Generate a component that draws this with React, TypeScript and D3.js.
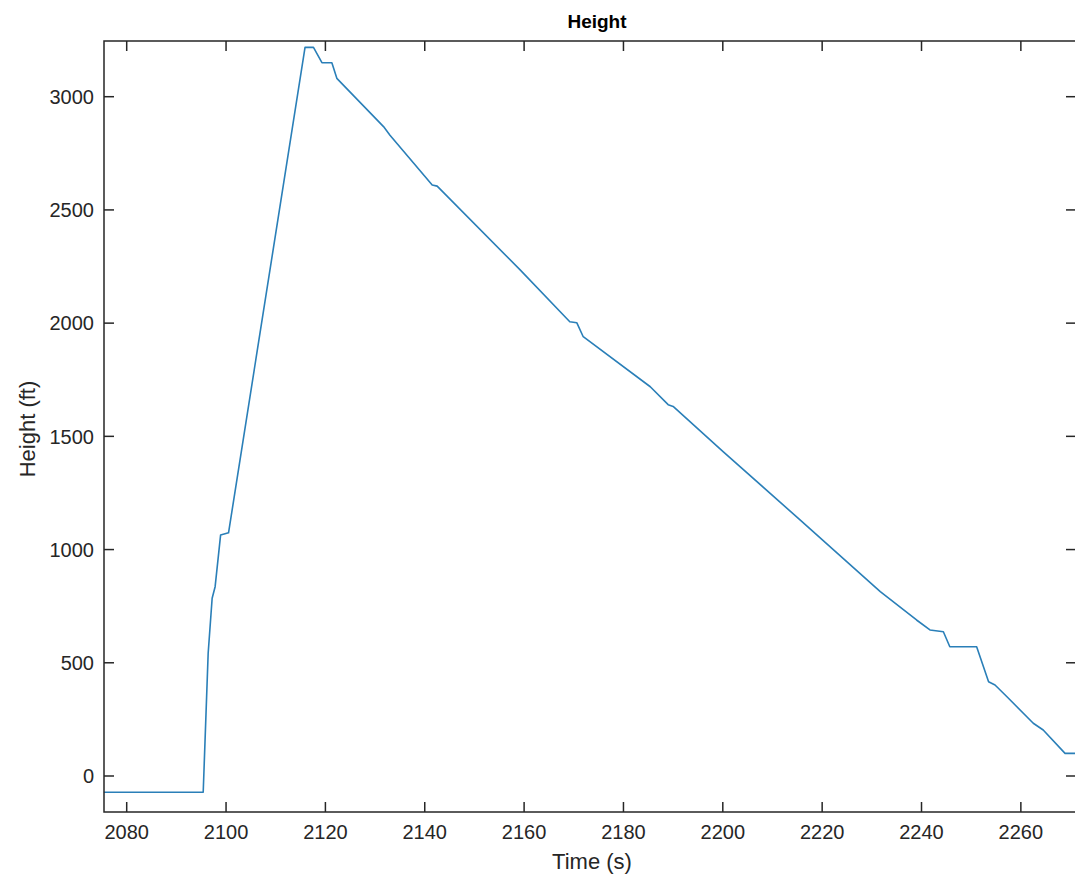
import React, { useEffect, useRef } from 'react';
import * as d3 from 'd3';

// flight log: time (s) vs height (ft)
const times = [
  2075.4, 2095.4, 2096.4, 2097.2, 2097.8, 2098.9, 2100.5, 2115.9, 2117.6, 2119.3,
  2121.3, 2122.3, 2131.7, 2133.0, 2141.5, 2142.5, 2159.2, 2169.2, 2170.6, 2171.9,
  2185.4, 2189.0, 2190.0, 2200.0, 2215.6, 2231.7, 2239.0, 2241.7, 2244.4, 2245.7,
  2251.1, 2253.5, 2254.8, 2257.2, 2262.5, 2264.5, 2268.9, 2271.1
];
const heights = [
  -72, -72, 542, 785, 836, 1064, 1074, 3218, 3218, 3150,
  3150, 3081, 2868, 2830, 2610, 2605, 2235, 2006, 2002, 1940,
  1719, 1640, 1632, 1434, 1130, 814, 689, 645, 637, 571,
  571, 416, 402, 350, 233, 203, 100, 100
];
const xTicks = [2080, 2100, 2120, 2140, 2160, 2180, 2200, 2220, 2240, 2260];
const yTicks = [0, 500, 1000, 1500, 2000, 2500, 3000];

const W = 1075;
const H = 876;
const box = { left: 104, top: 41, right: 1076, bottom: 812 };
const FONT = '"Liberation Sans", Arial, sans-serif';
const INK = '#262626';

export default function App() {
  const svgRef = useRef<SVGSVGElement>(null);

  useEffect(() => {
    if (!svgRef.current) return;
    const svg = d3.select(svgRef.current);
    svg.selectAll('*').remove();

    const x = d3.scaleLinear().domain([2075.43, 2271.1]).range([box.left, box.right]);
    const y = d3.scaleLinear().domain([-159, 3246]).range([box.bottom, box.top]);

    svg.append('rect').attr('width', W).attr('height', H).attr('fill', '#fff');

    // data line
    const pts = times.map((t, i) => [t, heights[i]] as [number, number]);
    const line = d3.line<[number, number]>().x(d => x(d[0])).y(d => y(d[1]));
    svg.append('path')
      .datum(pts)
      .attr('d', line)
      .attr('fill', 'none')
      .attr('stroke', '#2a7fb8')
      .attr('stroke-width', 1.6)
      .attr('stroke-linejoin', 'round');

    // box
    svg.append('rect')
      .attr('x', box.left)
      .attr('y', box.top)
      .attr('width', box.right - box.left)
      .attr('height', box.bottom - box.top)
      .attr('fill', 'none')
      .attr('stroke', INK)
      .attr('stroke-width', 1.5);

    // inward ticks on all four sides
    const tickLen = 10;
    const g = svg.append('g').attr('stroke', INK).attr('stroke-width', 1.5);
    xTicks.forEach(t => {
      g.append('line').attr('x1', x(t)).attr('x2', x(t)).attr('y1', box.bottom).attr('y2', box.bottom - tickLen);
      g.append('line').attr('x1', x(t)).attr('x2', x(t)).attr('y1', box.top).attr('y2', box.top + tickLen);
    });
    yTicks.forEach(v => {
      g.append('line').attr('x1', box.left).attr('x2', box.left + tickLen).attr('y1', y(v)).attr('y2', y(v));
      g.append('line').attr('x1', box.right).attr('x2', box.right - tickLen).attr('y1', y(v)).attr('y2', y(v));
    });

    svg.append('g')
      .selectAll('text')
      .data(xTicks)
      .enter()
      .append('text')
      .attr('x', d => x(d))
      .attr('y', box.bottom + 27)
      .attr('text-anchor', 'middle')
      .attr('font-family', FONT)
      .attr('font-size', '20px')
      .attr('fill', INK)
      .text(d => d);

    svg.append('g')
      .selectAll('text')
      .data(yTicks)
      .enter()
      .append('text')
      .attr('x', box.left - 10)
      .attr('y', d => y(d))
      .attr('dy', '0.36em')
      .attr('text-anchor', 'end')
      .attr('font-family', FONT)
      .attr('font-size', '20px')
      .attr('fill', INK)
      .text(d => d);

    svg.append('text')
      .attr('x', 597)
      .attr('y', 28)
      .attr('text-anchor', 'middle')
      .attr('font-family', FONT)
      .attr('font-size', '19px')
      .attr('font-weight', 'bold')
      .attr('fill', '#000')
      .text('Height');

    svg.append('text')
      .attr('x', 592)
      .attr('y', 869)
      .attr('text-anchor', 'middle')
      .attr('font-family', FONT)
      .attr('font-size', '22px')
      .attr('fill', INK)
      .text('Time (s)');

    svg.append('text')
      .attr('transform', `translate(35,429) rotate(-90)`)
      .attr('text-anchor', 'middle')
      .attr('font-family', FONT)
      .attr('font-size', '22px')
      .attr('fill', INK)
      .text('Height (ft)');
  }, []);

  return (
    <svg
      ref={svgRef}
      width={W}
      height={H}
      style={{ position: 'absolute', left: 0, top: 0, display: 'block' }}
    />
  );
}
